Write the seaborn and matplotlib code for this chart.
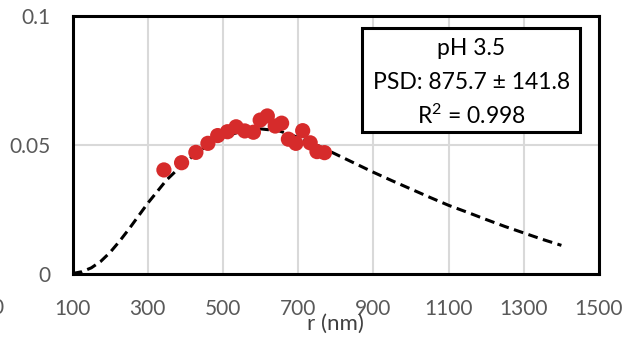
import numpy as np
import pandas as pd
import matplotlib
matplotlib.use("Agg")
import matplotlib.pyplot as plt
import seaborn as sns
from matplotlib.patches import Rectangle

# measured points
r_meas = [343, 390, 428, 460, 486, 512, 535, 558, 581, 599, 618, 639, 656, 674, 694, 712, 732, 750, 770]
p_meas = [0.0404, 0.0432, 0.0472, 0.0507, 0.0537, 0.0552, 0.0571, 0.0555, 0.0550, 0.0597,
          0.0613, 0.0574, 0.0585, 0.0523, 0.0507, 0.0556, 0.0509, 0.0475, 0.0471]

# fitted curve
r_fit = [100, 125, 150, 175, 200, 225, 250, 300, 350, 400, 450, 500, 550, 600, 650, 700, 750,
         800, 850, 900, 950, 1000, 1050, 1100, 1150, 1200, 1250, 1300, 1350, 1400]
p_fit = [0.0003, 0.0010, 0.0025, 0.0050, 0.0085, 0.0128, 0.0175, 0.0275, 0.0365, 0.0435,
         0.0490, 0.0530, 0.0555, 0.0563, 0.0555, 0.0530, 0.0500, 0.0465, 0.0430, 0.0395,
         0.0362, 0.0330, 0.0298, 0.0267, 0.0240, 0.0212, 0.0185, 0.0160, 0.0135, 0.0112]

x_ticks = [100, 300, 500, 700, 900, 1100, 1300, 1500]
y_ticks = [0, 0.05, 0.1]
y_tick_labels = ["0", "0.05", "0.1"]
box_lines = ["pH 3.5", "PSD: 875.7 ± 141.8", "R$^{2}$ = 0.998"]

sns.set_theme(style="white")
plt.rcParams["font.family"] = ["Lato", "DejaVu Sans"]
plt.rcParams["mathtext.fontset"] = "custom"
plt.rcParams["mathtext.rm"] = "Lato"
plt.rcParams["mathtext.it"] = "Lato"
plt.rcParams["mathtext.default"] = "regular"

fig = plt.figure(figsize=(6.34, 3.39), dpi=100)
ax = fig.add_axes([0.1144, 0.1909, 0.8304, 0.7619])

df_fit = pd.DataFrame({"r": r_fit, "p": p_fit})
df_meas = pd.DataFrame({"r": r_meas, "p": p_meas})

sns.lineplot(data=df_fit, x="r", y="p", ax=ax, color="black", linewidth=2.2,
             linestyle=(0, (3.2, 1.8)), zorder=3)
sns.scatterplot(data=df_meas, x="r", y="p", ax=ax, color="#d62b2b", s=120,
                edgecolor="none", zorder=4)

ax.set_xlim(100, 1500)
ax.set_ylim(0, 0.1)
ax.set_xticks(x_ticks)
ax.set_xticklabels([str(v) for v in x_ticks])
ax.set_yticks(y_ticks)
ax.set_yticklabels(y_tick_labels)
ax.grid(True, color="#d9d9d9", linewidth=1.5)
ax.set_axisbelow(True)
ax.tick_params(axis="both", length=0, labelsize=15, labelcolor="#595959")
ax.tick_params(axis="x", pad=18)
ax.tick_params(axis="y", pad=16)
for s in ax.spines.values():
    s.set_visible(True)
    s.set_color("black")
    s.set_linewidth(2.2)
ax.set_xlabel("r (nm)", fontsize=16, color="#404040", labelpad=-4)
ax.set_ylabel("")

rect = Rectangle((0.549, 0.5497), 0.964 - 0.549, 0.952 - 0.5497, transform=ax.transAxes,
                 facecolor="white", edgecolor="black", linewidth=2.2, zorder=5)
ax.add_patch(rect)
for yy, t in zip([0.876, 0.741, 0.612], box_lines):
    ax.text(0.757, yy, t, transform=ax.transAxes, ha="center", va="center",
            fontsize=16.5, color="black", zorder=6)

fig.text(3 / 634, 1 - 308 / 339, "0", ha="right", va="center", fontsize=15, color="#595959")

fig.savefig("out.png", dpi=100)
